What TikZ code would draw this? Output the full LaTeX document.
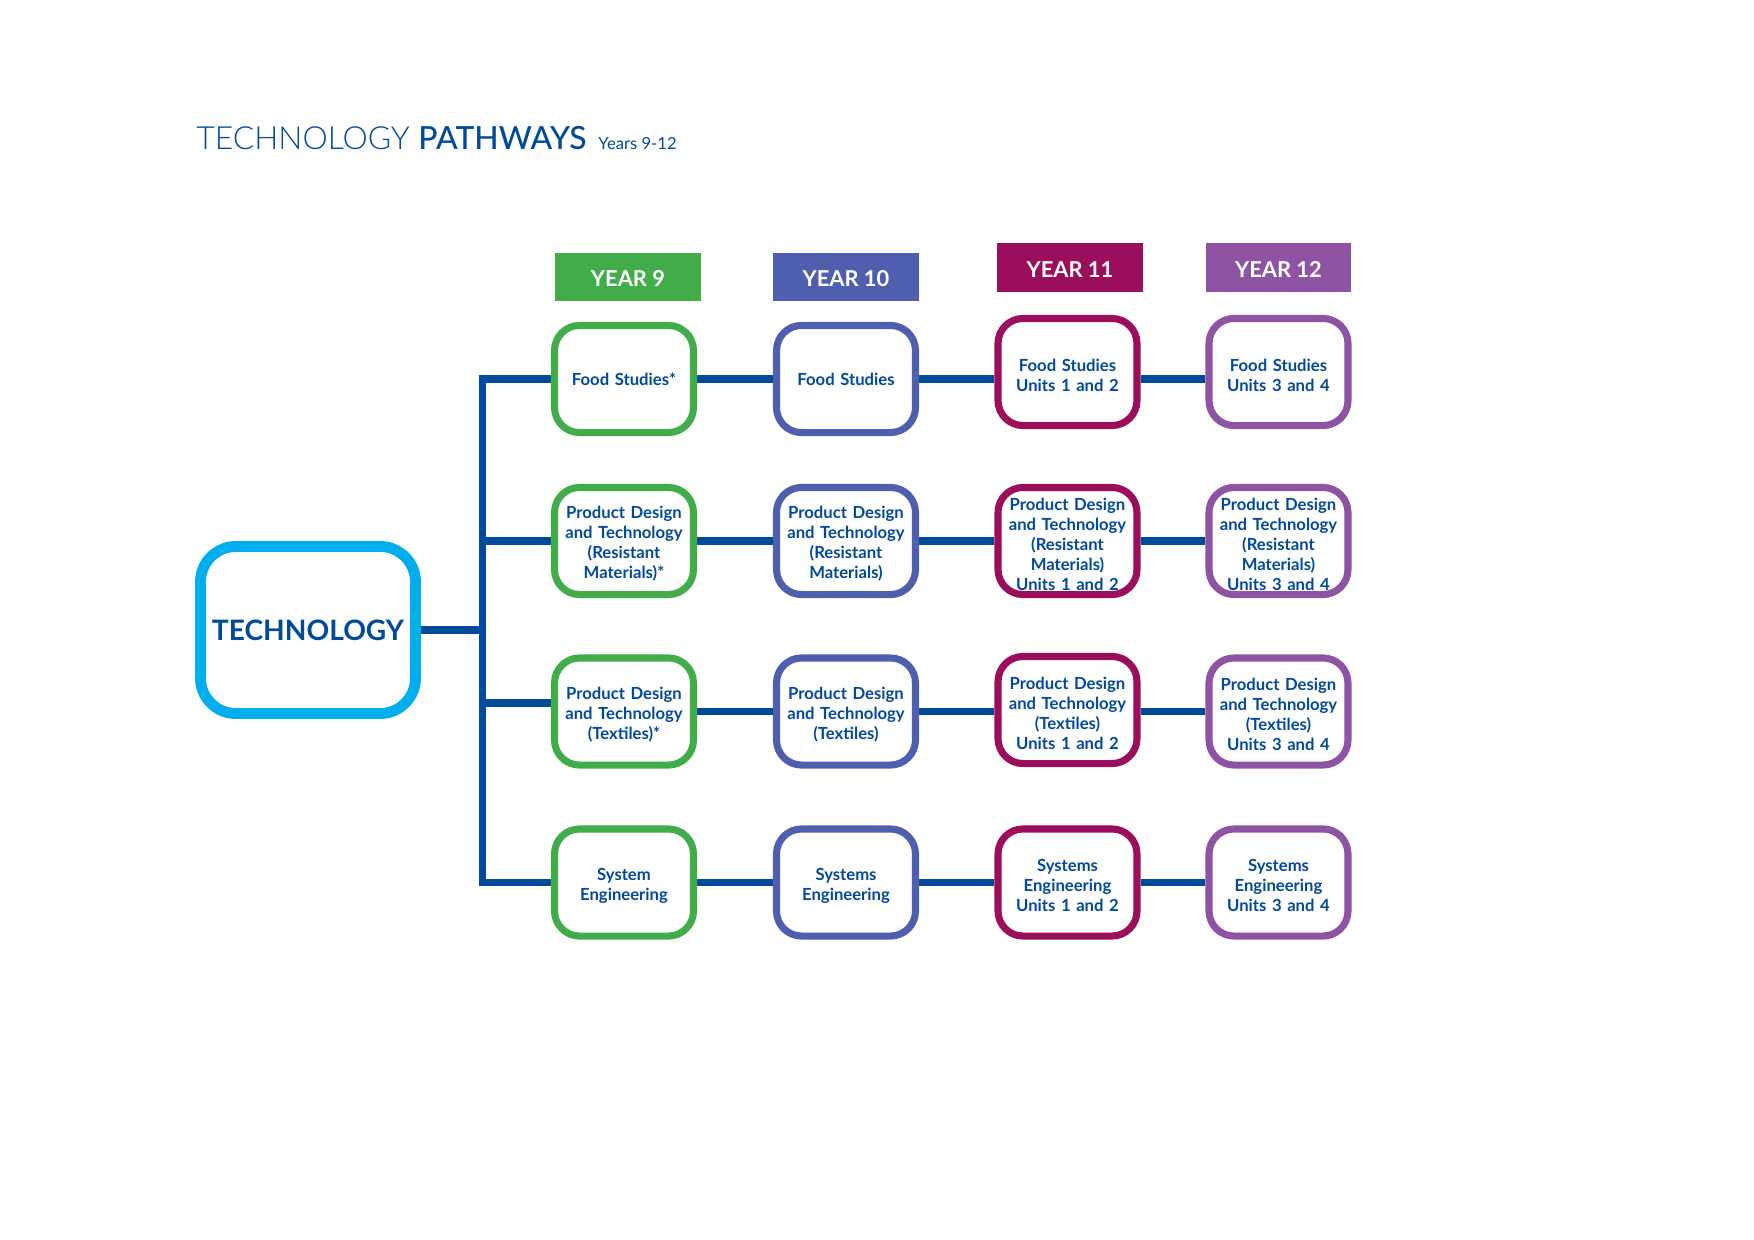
\documentclass[tikz,border=0pt]{standalone}
\usepackage{fontspec}
\setmainfont{Lato}
\newfontfamily\titlelight{Lato Light}
\newfontfamily\titlemedium{Lato Medium}
\usetikzlibrary{backgrounds}

\definecolor{techblue}{HTML}{004A98}
\definecolor{techcyan}{HTML}{00AEEF}
\definecolor{yrgreen}{HTML}{43AC4A}
\definecolor{yrblue}{HTML}{4F5FAD}
\definecolor{yrplum}{HTML}{9B0E5C}
\definecolor{yrpurple}{HTML}{8E53A2}

\begin{document}
\begin{tikzpicture}[x=0.48pt,y=-0.48pt,
  course/.style={draw=#1,line width=3.4pt,rounded corners=12pt,fill=white,minimum width=66.7pt,minimum height=51.4pt,text width=64pt,align=center,inner sep=0pt,text=techblue,font=\bfseries\fontsize{8}{9.6}\selectfont,execute at end node={\endgraf\vspace*{-2.8pt}}},
  yearbox/.style={fill=#1,minimum width=70pt,minimum height=23.3pt,inner sep=0pt,text height=9.4pt,text depth=0pt,text=white,font=\bfseries\fontsize{10.5}{12}\selectfont},
  link/.style={draw=techblue,line width=3.6pt}]
\useasboundingbox (0,0) rectangle (1754,1240);

\node[anchor=base west,inner sep=0pt,text=techblue,font=\fontsize{15.3}{17}\selectfont] (title) at (196,150) {\titlelight TECHNOLOGY \titlemedium PATHWAYS};
\node[anchor=base west,inner sep=0pt,text=techblue,font=\fontsize{8}{10}\selectfont] (years) at (598,150) {Years 9-12};

\node[draw=techcyan,line width=5.2pt,rounded corners=17pt,fill=white,minimum width=103.2pt,minimum height=80.2pt,text=techblue,font=\bfseries\fontsize{13.5}{16}\selectfont] (tech) at (308,630) {TECHNOLOGY};

\node[yearbox=yrgreen] (y9) at (628,277) {YEAR 9};
\node[yearbox=yrblue] (y10) at (846,277) {YEAR 10};
\node[yearbox=yrplum] (y11) at (1070,267.5) {YEAR 11};
\node[yearbox=yrpurple] (y12) at (1278.5,267.5) {YEAR 12};

\node[course=yrgreen] (f9) at (624,379) {Food Studies*};
\node[course=yrgreen] (p9) at (624,541) {Product Design\\and Technology\\(Resistant\\Materials)*};
\node[course=yrgreen] (t9) at (624,711.5) {Product Design\\and Technology\\(Textiles)*};
\node[course=yrgreen] (s9) at (624,882.5) {System\\Engineering};

\node[course=yrblue] (f10) at (846,379) {Food Studies};
\node[course=yrblue] (p10) at (846,541) {Product Design\\and Technology\\(Resistant\\Materials)};
\node[course=yrblue] (t10) at (846,711.5) {Product Design\\and Technology\\(Textiles)};
\node[course=yrblue] (s10) at (846,882.5) {Systems\\Engineering};

\node[course=yrplum] (f11) at (1067.5,372) {Food Studies\\Units 1 and 2};
\node[course=yrplum] (p11) at (1067.5,541) {Product Design\\and Technology\\(Resistant\\Materials)\\Units 1 and 2};
\node[course=yrplum] (t11) at (1067.5,710) {Product Design\\and Technology\\(Textiles)\\Units 1 and 2};
\node[course=yrplum] (s11) at (1067.5,882.5) {Systems\\Engineering\\Units 1 and 2};

\node[course=yrpurple] (f12) at (1278.5,372) {Food Studies\\Units 3 and 4};
\node[course=yrpurple] (p12) at (1278.5,541) {Product Design\\and Technology\\(Resistant\\Materials)\\Units 3 and 4};
\node[course=yrpurple] (t12) at (1278.5,711.5) {Product Design\\and Technology\\(Textiles)\\Units 3 and 4};
\node[course=yrpurple] (s12) at (1278.5,882.5) {Systems\\Engineering\\Units 3 and 4};

\coordinate (bus) at (482.5,632);
\path (t9.west) ++(0,-8.5) coordinate (t9in);

\begin{scope}[on background layer]
\draw[link] (tech.east) -- (tech.east -| bus);
\draw[link] (f9.west) -- (f9.west -| bus) -- (s9.west -| bus) -- (s9.west);
\draw[link] (p9.west -| bus) -- (p9.west);
\draw[link] (t9in -| bus) -- (t9in);
\foreach \r in {f,p,t,s} {
  \draw[link] (\r9.east) -- (\r10.west);
  \draw[link] (\r10.east) -- (\r10.east -| \r11.west);
  \draw[link] (\r10.east -| \r11.east) -- (\r10.east -| \r12.west);
}
\end{scope}
\end{tikzpicture}
\end{document}
